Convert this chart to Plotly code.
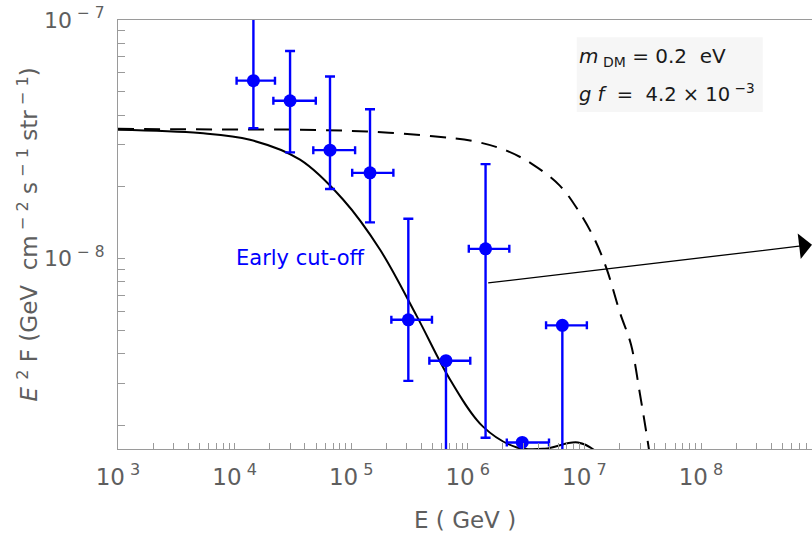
import numpy as np
import plotly.graph_objects as go

# Binned flux measurements (GeV cm^-2 s^-1 str^-1) with bin edges in energy (GeV)
energy = [1.45e4, 2.99e4, 6.58e4, 1.45e5, 3.09e5, 6.50e5, 1.42e6, 2.93e6, 6.47e6]
energy_low = [1.04e4, 2.15e4, 4.73e4, 1.02e5, 2.21e5, 4.68e5, 1.02e6, 2.16e6, 4.69e6]
energy_high = [2.22e4, 4.97e4, 1.08e5, 2.30e5, 4.93e5, 1.05e6, 2.27e6, 4.97e6, 1.05e7]
flux = [5.57e-8, 4.59e-8, 2.85e-8, 2.29e-8, 5.55e-9, 3.74e-9, 1.10e-8, 1.70e-9, 5.26e-9]
flux_high = [1.2e-7, 7.42e-8, 5.80e-8, 4.23e-8, 1.47e-8, 3.74e-9, 2.49e-8, 1.70e-9, 5.26e-9]
flux_low = [3.52e-8, 2.79e-8, 1.96e-8, 1.42e-8, 3.08e-9, 1.0e-9, 1.78e-9, 1.70e-9, 1.0e-9]

# Model with early cut-off (solid)
early_E = [1.0e3, 5.05e3, 1.355e4, 3.64e4, 8.51e4, 1.77e5, 3.67e5, 7.04e5,
           1.35e6, 2.64e6, 4.59e6, 8.81e6, 1.36e7, 1.66e7]
early_F = [3.47e-8, 3.36e-8, 3.15e-8, 2.60e-8, 1.77e-8, 1.09e-8, 5.72e-9, 3.12e-9,
           1.98e-9, 1.62e-9, 1.60e-9, 1.70e-9, 1.50e-9, 1.25e-9]

# Model with late cut-off (dashed)
late_E = [1.0e3, 6.53e3, 3.64e4, 1.37e5, 5.03e5, 1.15e6, 2.17e6, 3.62e6, 6.18e6, 8.81e6,
          1.23e7, 1.56e7, 2.02e7, 2.51e7, 3.00e7, 3.44e7, 3.80e7]
late_F = [3.50e-8, 3.48e-8, 3.47e-8, 3.41e-8, 3.26e-8, 3.10e-8, 2.83e-8, 2.48e-8, 2.02e-8,
          1.60e-8, 1.20e-8, 9.00e-9, 5.94e-9, 4.37e-9, 2.70e-9, 1.80e-9, 1.31e-9]

x_tick_vals = [1e3, 1e4, 1e5, 1e6, 1e7, 1e8]
x_tick_text = ["10<sup> 3</sup>", "10<sup> 4</sup>", "10<sup> 5</sup>",
               "10<sup> 6</sup>", "10<sup> 7</sup>", "10<sup> 8</sup>"]
y_tick_vals = [1e-8, 1e-7]
y_tick_text = ["10<sup> − 8</sup>", "10<sup> − 7</sup>"]

FONT = "DejaVu Sans"
AXIS_GREY = "#9a9a9a"
TEXT_GREY = "#5e5e5e"
BLUE = "#0000ff"
NB = "\u00a0"

flux_arr = np.array(flux)
energy_arr = np.array(energy)

fig = go.Figure()

fig.add_trace(go.Scatter(
    x=early_E, y=early_F, mode="lines",
    line=dict(color="black", width=2, shape="spline", smoothing=1),
    showlegend=False, hoverinfo="skip"))
fig.add_trace(go.Scatter(
    x=late_E, y=late_F, mode="lines",
    line=dict(color="black", width=2, dash="16px,10px", shape="spline", smoothing=1),
    showlegend=False, hoverinfo="skip"))

fig.add_trace(go.Scatter(
    x=energy, y=flux, mode="markers",
    marker=dict(color=BLUE, size=13),
    error_y=dict(type="data", symmetric=False,
                 array=list(np.array(flux_high) - flux_arr),
                 arrayminus=list(flux_arr - np.array(flux_low)),
                 color=BLUE, thickness=2.4, width=5),
    error_x=dict(type="data", symmetric=False,
                 array=list(np.array(energy_high) - energy_arr),
                 arrayminus=list(energy_arr - np.array(energy_low)),
                 color=BLUE, thickness=2.4, width=4),
    showlegend=False))

x_range = [3, 8.952]
y_range = [-8.797, -7]

fig.update_xaxes(
    type="log", range=x_range, tickmode="array", tickvals=x_tick_vals, ticktext=x_tick_text,
    ticks="inside", ticklen=6, tickcolor=AXIS_GREY, tickwidth=1,
    minor=dict(ticks="inside", ticklen=6, tickcolor=AXIS_GREY, dtick="D1", showgrid=False),
    showline=True, linecolor=AXIS_GREY, linewidth=1, mirror=True,
    showgrid=False, zeroline=False, ticklabelstandoff=7,
    tickfont=dict(family=FONT, size=23, color=TEXT_GREY))
fig.update_yaxes(
    type="log", range=y_range, tickmode="array", tickvals=y_tick_vals, ticktext=y_tick_text,
    ticks="inside", ticklen=7, tickcolor=AXIS_GREY, tickwidth=1,
    minor=dict(ticks="inside", ticklen=7, tickcolor=AXIS_GREY, dtick="D1", showgrid=False),
    showline=True, linecolor=AXIS_GREY, linewidth=1, mirror=False,
    showgrid=False, zeroline=False, ticklabelstandoff=8,
    tickfont=dict(family=FONT, size=22, color=TEXT_GREY))

# Parameter box
fig.add_shape(type="rect", xref="paper", yref="paper", x0=0.661, x1=0.929, y0=0.7855, y1=0.960,
              fillcolor="#f6f6f6", line=dict(width=0), layer="below")

annotations = [
    dict(x=0.662, y=0.9145, xref="paper", yref="paper", xanchor="left", yanchor="middle",
         text=f"<i>m</i><sub>{NB}DM</sub>{NB}={NB}0.2{NB}{NB}eV", showarrow=False,
         font=dict(family=FONT, size=20, color="#1a1a1a")),
    dict(x=0.662, y=0.830, xref="paper", yref="paper", xanchor="left", yanchor="middle",
         text=f"<i>g{NB}f</i>{NB}{NB}={NB}{NB}4.2{NB}×{NB}10<sup>{NB}−3</sup>", showarrow=False,
         font=dict(family=FONT, size=19.5, color="#1a1a1a")),
    dict(x=4.569, y=-7.996, xref="x", yref="y", text="Early cut-off", showarrow=False,
         font=dict(family=FONT, size=21, color=BLUE)),
    dict(x=8.952, y=-7.941, ax=6.162, ay=-8.102, xref="x", yref="y", axref="x", ayref="y",
         text="", showarrow=True, arrowhead=1, arrowsize=3.3, arrowwidth=1.3,
         arrowcolor="black", standoff=0, startstandoff=0),
    dict(x=-0.131, y=0.5, xref="paper", yref="paper", textangle=-90,
         xanchor="center", yanchor="middle",
         text=f"<i>E</i>{NB}<sup>2</sup>{NB}F{NB}(GeV{NB}{NB}cm<sup>{NB}−{NB}2</sup>{NB}s<sup>{NB}−{NB}1</sup>{NB}str<sup>{NB}−{NB}1</sup>)",
         showarrow=False, font=dict(family=FONT, size=23, color=TEXT_GREY)),
    dict(x=0.50, y=-0.1655, xref="paper", yref="paper", xanchor="center", yanchor="middle",
         text="E ( GeV )", showarrow=False, font=dict(family=FONT, size=23, color=TEXT_GREY)),
]

fig.update_layout(
    width=812, height=533,
    margin=dict(l=118, r=0, t=20, b=84),
    paper_bgcolor="white", plot_bgcolor="white",
    annotations=annotations,
    showlegend=False,
)

fig.write_html("out.html")
